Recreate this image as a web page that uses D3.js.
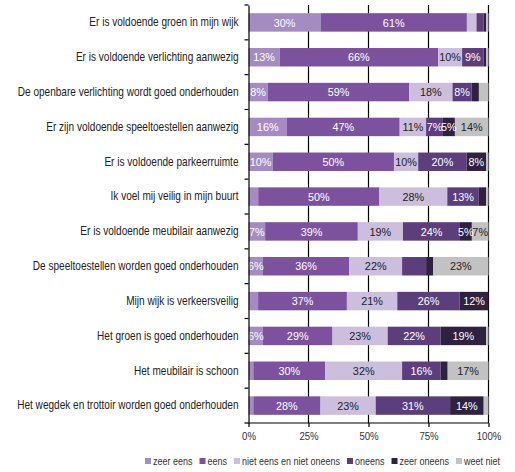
<!DOCTYPE html>
<html><head><meta charset="utf-8">
<script src="https://cdn.jsdelivr.net/npm/d3@7"></script>
<style>
html,body{margin:0;padding:0;background:#fff;}
svg{display:block;}
text{font-family:"Liberation Sans",Arial,sans-serif;}
</style></head>
<body><svg id="c" width="515" height="472"></svg>
<script>
const categories = [
  "Er is voldoende groen in mijn wijk",
  "Er is voldoende verlichting aanwezig",
  "De openbare verlichting wordt goed onderhouden",
  "Er zijn voldoende speeltoestellen aanwezig",
  "Er is voldoende parkeerruimte",
  "Ik voel mij veilig in mijn buurt",
  "Er is voldoende meubilair aanwezig",
  "De speeltoestellen worden goed onderhouden",
  "Mijn wijk is verkeersveilig",
  "Het groen is goed onderhouden",
  "Het meubilair is schoon",
  "Het wegdek en trottoir worden goed onderhouden"
];
const seriesNames = ["zeer eens","eens","niet eens en niet oneens","oneens","zeer oneens","weet niet"];
const zeerEens   = [30,13, 8,16,10, 4, 7, 6, 4, 6, 2, 2];
const eens       = [61,66,59,47,50,50,39,36,37,29,30,28];
const nietEens   = [ 4,10,18,11,10,28,19,22,21,23,32,23];
const oneens     = [ 3, 9, 8, 7,20,13,24,10,26,22,16,31];
const zeerOneens = [ 1, 1, 3, 5, 8, 3, 5, 3,12,19, 3,14];
const weetNiet   = [ 1, 1, 4,14, 1, 1, 7,23, 0, 1,17, 2];
const ticks = [0,25,50,75,100];
const tickLabels = ["0%","25%","50%","75%","100%"];
const hiddenLabels = [[7,3]]; // [row, series] labels not printed
const colors = ["#a48cc2","#7c529f","#cbbfdd","#5d3e7d","#2f2140","#c2c2c2"];
const textColors = ["#fff","#fff","#222","#fff","#fff","#222"];

const seriesArrays = [zeerEens,eens,nietEens,oneens,zeerOneens,weetNiet];
const rows = categories.map((c,i)=>{
  const o={cat:c,idx:i};
  seriesNames.forEach((s,j)=>o[s]=seriesArrays[j][i]);
  return o;
});

const svg = d3.select("#c");
const x = d3.scaleLinear().domain([0,100]).range([248.5,488.5]);
const y = d3.scaleBand().domain(categories).range([5,423]).paddingInner(0.47).paddingOuter(0.235);

// horizontal condensing helper (keeps text as text)
function measure(str, size){
  const t = svg.append("text").attr("font-size",size).text(str);
  const w = t.node().getComputedTextLength(); t.remove(); return w;
}
function squeeze(sel, s){
  sel.each(function(){
    const t=d3.select(this);
    const tx=+t.attr("x")||0, ty=+t.attr("y")||0;
    t.attr("x",0).attr("y",0).attr("transform",`translate(${tx},${ty}) scale(${s},1)`);
  });
}
const catSize=12, pctSize=11.5, tickSize=11, legSize=10.5;
const catScale = 221 / measure("De openbare verlichting wordt goed onderhouden", catSize);
const pctScale = Math.min(1, 21.7 / measure("30%", pctSize));
const tickScale = Math.min(1, 19.3 / measure("25%", tickSize));
const legScale = 98 / measure("niet eens en niet oneens", legSize);

const stack = d3.stack().keys(seriesNames).offset(d3.stackOffsetExpand);
const stacked = stack(rows);

// gridlines
svg.append("g").selectAll("line").data(ticks.slice(1)).join("line")
  .attr("x1",d=>x(d)).attr("x2",d=>x(d))
  .attr("y1",5).attr("y2",423).attr("stroke","#000").attr("stroke-width",1.2);

// bars
const layers = svg.append("g").selectAll("g").data(stacked).join("g")
  .attr("fill",(d,i)=>colors[i]);
layers.selectAll("rect").data(d=>d).join("rect")
  .attr("x",d=>x(d[0]*100))
  .attr("width",d=>Math.max(0,x(d[1]*100)-x(d[0]*100)))
  .attr("y",d=>y(d.data.cat))
  .attr("height",y.bandwidth());

// labels
const lab = svg.append("g");
stacked.forEach((layer,si)=>{
  layer.forEach((d,ri)=>{
    const v = seriesArrays[si][ri];
    if (v < 5) return;
    if (hiddenLabels.some(h=>h[0]===ri && h[1]===si)) return;
    lab.append("text")
      .attr("x",(x(d[0]*100)+x(d[1]*100))/2)
      .attr("y",y(d.data.cat)+y.bandwidth()/2)
      .attr("dy","0.36em")
      .attr("text-anchor","middle")
      .attr("font-size",pctSize)
      .attr("fill",textColors[si])
      .text(v+"%");
  });
});
squeeze(lab.selectAll("text"), pctScale);

// left axis
const yAxis = d3.axisLeft(y).tickSize(0).tickPadding(10);
const gy = svg.append("g").attr("transform","translate(248.5,0)").call(yAxis);
gy.select(".domain").attr("stroke","#000").attr("stroke-width",1.2);
gy.selectAll(".tick text").attr("font-size",catSize).attr("fill","#222").attr("font-family","Liberation Sans, Arial, sans-serif");
squeeze(gy.selectAll(".tick text"), catScale);
// category boundary ticks
const bounds = d3.range(categories.length+1).map(i=>5+i*(418/categories.length));
gy.selectAll(".bt").data(bounds).join("line").attr("class","bt")
  .attr("x1",-4).attr("x2",0).attr("y1",d=>d).attr("y2",d=>d)
  .attr("stroke","#000").attr("stroke-width",1.2);

// bottom axis
const xAxis = d3.axisBottom(x).tickValues(ticks).tickFormat((d,i)=>tickLabels[i]).tickSize(4).tickPadding(5);
const gx = svg.append("g").attr("transform","translate(0,423)").call(xAxis);
gx.select(".domain").attr("stroke","#000").attr("stroke-width",1.2).attr("d","M248.5,0H488.5");
gx.selectAll(".tick line").attr("stroke","#000").attr("stroke-width",1.2);
gx.selectAll(".tick text").attr("font-size",tickSize).attr("fill","#333").attr("font-family","Liberation Sans, Arial, sans-serif");
squeeze(gx.selectAll(".tick text"), tickScale);

// legend
const lg = svg.append("g");
let cx = 0;
seriesNames.forEach((s,i)=>{
  const g = lg.append("g").attr("transform",`translate(${cx},0)`);
  g.append("rect").attr("x",0).attr("y",-3).attr("width",6).attr("height",6).attr("fill",colors[i]);
  const t = g.append("text").attr("x",8).attr("y",0).attr("dy","0.35em")
    .attr("font-size",legSize).attr("fill","#333").text(s);
  const w = t.node().getComputedTextLength()*legScale;
  squeeze(t, legScale);
  cx += 8 + w + 7;
});
const total = cx - 7;
lg.attr("transform",`translate(${145},461)`);
</script></body></html>
